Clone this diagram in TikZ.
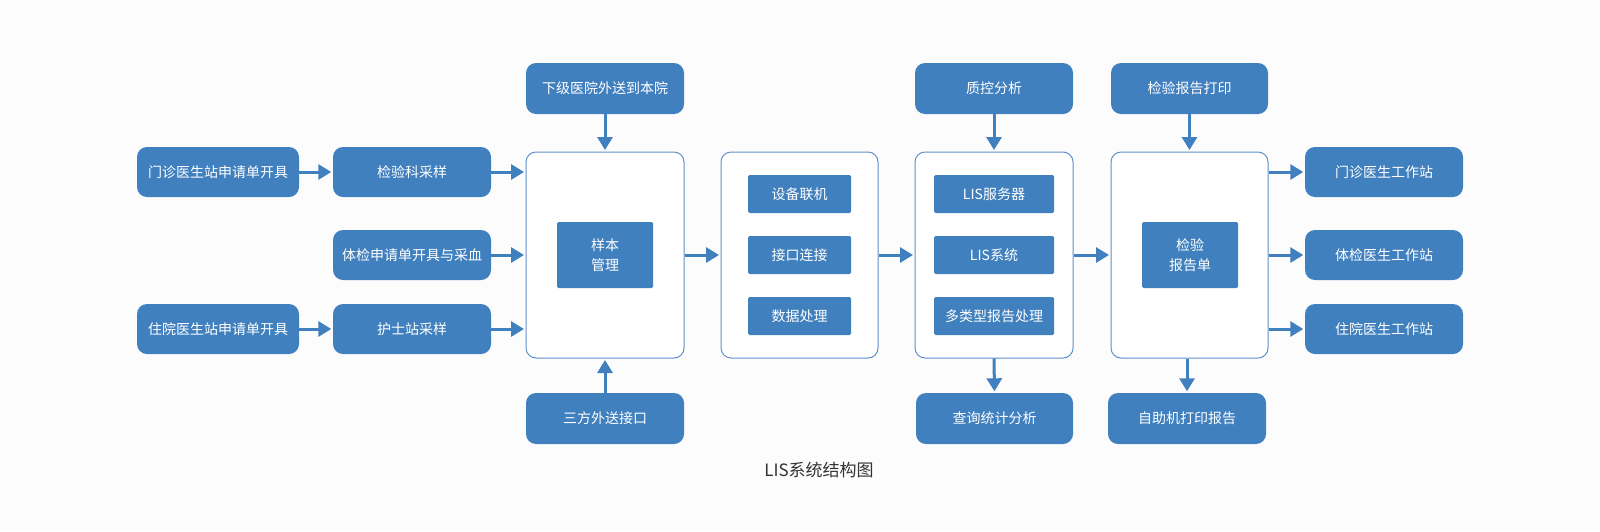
\documentclass[tikz,border=0pt]{standalone}
\usepackage{fontspec}
\newfontfamily\cjk{Noto Sans CJK SC}
\usetikzlibrary{arrows.meta}
\definecolor{boxblue}{RGB}{64,128,190}
\definecolor{frameblue}{RGB}{95,145,200}
\definecolor{titlegray}{RGB}{51,51,51}
\definecolor{bgwhite}{RGB}{252,252,253}
\tikzset{
  basebox/.style={font=\cjk\fontsize{14}{19.5}\selectfont, text=white, fill=boxblue, inner sep=0pt, align=center},
  outerbox/.style={basebox, rounded corners=10pt, minimum width=158pt, minimum height=51pt},
  innerbox/.style={basebox, rounded corners=1.5pt},
  frame/.style={draw=frameblue, line width=1pt, fill=white, rounded corners=10pt, minimum width=158pt, minimum height=206pt, inner sep=0pt},
  arr/.style={draw=boxblue, line width=3pt, -{Triangle[width=15pt,length=13pt]}, shorten >=1.5pt}
}
\begin{document}
\begin{tikzpicture}[x=1pt,y=-1pt]
\useasboundingbox[fill=bgwhite] (0,0) rectangle (1600,531);
% left column
\node[outerbox, minimum width=162pt, minimum height=50pt] (mz) at (218,172) {门诊医生站申请单开具};
\node[outerbox, minimum height=50pt] (jyk) at (412,172) {检验科采样};
\node[outerbox, minimum height=50pt] (tj) at (412,255) {体检申请单开具与采血};
\node[outerbox, minimum width=162pt, minimum height=50pt] (zy) at (218,329) {住院医生站申请单开具};
\node[outerbox, minimum height=50pt] (hs) at (412,329) {护士站采样};
% container 1
\node[frame] (c1) at (605,255) {};
\node[innerbox, minimum width=96pt, minimum height=66pt] (yb) at (605,255) {样本\\管理};
\node[outerbox] (xj) at (605,88.5) {下级医院外送到本院};
\node[outerbox] (sf) at (605,418.5) {三方外送接口};
% container 2
\node[frame, minimum width=157pt] (c2) at (799.5,255) {};
\node[innerbox, minimum width=103pt, minimum height=38pt] (sb) at (799.5,194) {设备联机};
\node[innerbox, minimum width=103pt, minimum height=38pt] (jk) at (799.5,255) {接口连接};
\node[innerbox, minimum width=103pt, minimum height=38pt] (sj) at (799.5,316) {数据处理};
% container 3
\node[frame] (c3) at (994,255) {};
\node[innerbox, minimum width=120pt, minimum height=38pt] (fwq) at (994,194) {LIS服务器};
\node[innerbox, minimum width=120pt, minimum height=38pt] (xt) at (994,255) {LIS系统};
\node[innerbox, minimum width=120pt, minimum height=38pt] (dlx) at (994,316) {多类型报告处理};
\node[outerbox] (zk) at (994,88.5) {质控分析};
\node[outerbox, minimum width=157pt] (cx) at (994.5,418.5) {查询统计分析};
% container 4
\node[frame, minimum width=157pt] (c4) at (1189.5,255) {};
\node[innerbox, minimum width=96pt, minimum height=66pt] (bgd) at (1190,255) {检验\\报告单};
\node[outerbox, minimum width=157pt] (dy) at (1189.5,88.5) {检验报告打印};
\node[outerbox] (zz) at (1187,418.5) {自助机打印报告};
% right column
\node[outerbox, minimum height=50pt] (r1) at (1384,172) {门诊医生工作站};
\node[outerbox, minimum height=50pt] (r2) at (1384,255) {体检医生工作站};
\node[outerbox, minimum height=50pt] (r3) at (1384,329) {住院医生工作站};
% title
\node[font=\cjk\fontsize{17}{20}\selectfont, text=titlegray, inner sep=0pt] (title) at (819,470) {LIS系统结构图};
% arrows
\draw[arr] (mz.east) -- (jyk.west);
\draw[arr] (zy.east) -- (hs.west);
\draw[arr] (jyk.east) -- (jyk.east -| c1.west);
\draw[arr] (tj.east) -- (tj.east -| c1.west);
\draw[arr] (hs.east) -- (hs.east -| c1.west);
\draw[arr] (xj.south) -- (c1.north);
\draw[arr] (sf.north) -- (c1.south);
\draw[arr] (c1.east) -- (c2.west);
\draw[arr] (c2.east) -- (c3.west);
\draw[arr] (c3.east) -- (c4.west);
\draw[arr] (zk.south) -- (c3.north);
\draw[arr] (c3.south) -- (cx.north);
\draw[arr] (dy.south) -- (c4.north);
\draw[arr] (c4.south -| zz.north) -- (zz.north);
\draw[arr] (c4.east |- r1.west) -- (r1.west);
\draw[arr] (c4.east |- r2.west) -- (r2.west);
\draw[arr] (c4.east |- r3.west) -- (r3.west);
\end{tikzpicture}
\end{document}
